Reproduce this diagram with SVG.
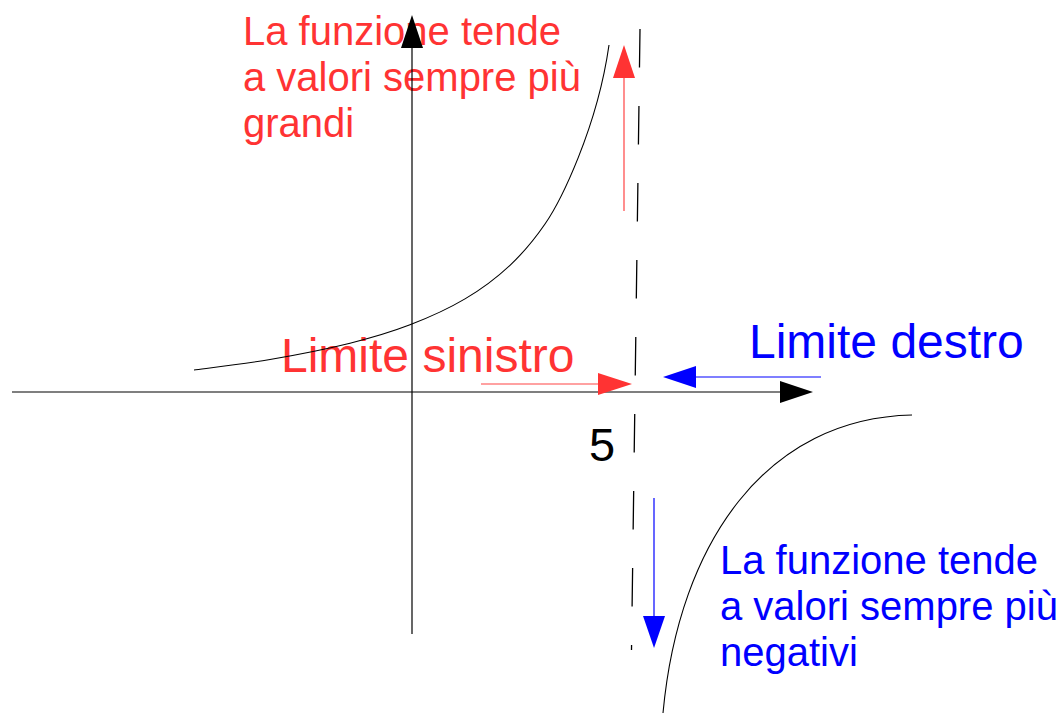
<svg xmlns="http://www.w3.org/2000/svg" width="1058" height="715" viewBox="0 0 1058 715">
<style>
text{font-family:"Liberation Sans",Arial,sans-serif}
.red{fill:#ff3333}
.blue{fill:#0000ff}
.lbl{font-size:40px}
.big{font-size:48px}
.ax{stroke:#000;stroke-width:1.2;fill:none}
.crv{stroke:#000;stroke-width:1.1;fill:none}
.rl{stroke:#ff4444;stroke-width:1.2}
.bl{stroke:#0000ff;stroke-width:1.2}
</style>
<rect width="1058" height="715" fill="#fff"/>
<g id="text-top">
<text class="red lbl"><tspan x="243" y="45">La funzione tende</tspan><tspan x="243" y="91">a valori sempre più</tspan><tspan x="243" y="137">grandi</tspan></text>
</g>
<g id="text-bottom">
<text class="blue lbl"><tspan x="720" y="574">La funzione tende</tspan><tspan x="720" y="620">a valori sempre più</tspan><tspan x="720" y="666">negativi</tspan></text>
</g>
<g id="label-left"><text class="red big" x="281" y="372">Limite sinistro</text></g>
<g id="label-right"><text class="blue big" x="749" y="358">Limite destro</text></g>
<g id="label-5"><text x="589" y="461" font-size="47">5</text></g>
<g id="curve-left">
<path class="crv" d="M194,370 C206.7,368.3 244,364 270,359.5 C296,355 326.7,349 350,343.2 C373.3,337.4 390.8,332.2 410,324.8 C429.2,317.4 448.3,308.8 465,298.9 C481.7,289 496.7,277.8 510,265.3 C523.3,252.8 535,238.5 545,224 C560,202.25 597,129 609,45"/>
</g>
<g id="curve-right">
<path class="crv" d="M912,415 C768,418 679,540 663,713"/>
</g>
<g id="asymptote">
<line x1="640" y1="29" x2="631.5" y2="650" stroke="#000" stroke-width="1.3" stroke-dasharray="38.5 38.5"/>
</g>
<g id="connectors">
<line class="ax" x1="12" y1="392" x2="781" y2="392"/>
<polygon points="780,381 813,392 780,403" fill="#000"/>
<line class="ax" x1="412" y1="634" x2="412" y2="47"/>
<polygon points="412,15 401,48 423,48" fill="#000"/>
<line class="rl" x1="624" y1="211" x2="624" y2="77"/>
<polygon points="624,45 613,78 635,78" fill="#ff3333"/>
<line class="rl" x1="481" y1="384" x2="599" y2="384"/>
<polygon points="632,384 598,373 598,395" fill="#ff3333"/>
<line class="bl" x1="821" y1="377" x2="695" y2="377"/>
<polygon points="663,377 696,366 696,388" fill="#0000ff"/>
<line class="bl" x1="654" y1="498" x2="654" y2="617"/>
<polygon points="654,648 643,616 665,616" fill="#0000ff"/>
</g>
</svg>
